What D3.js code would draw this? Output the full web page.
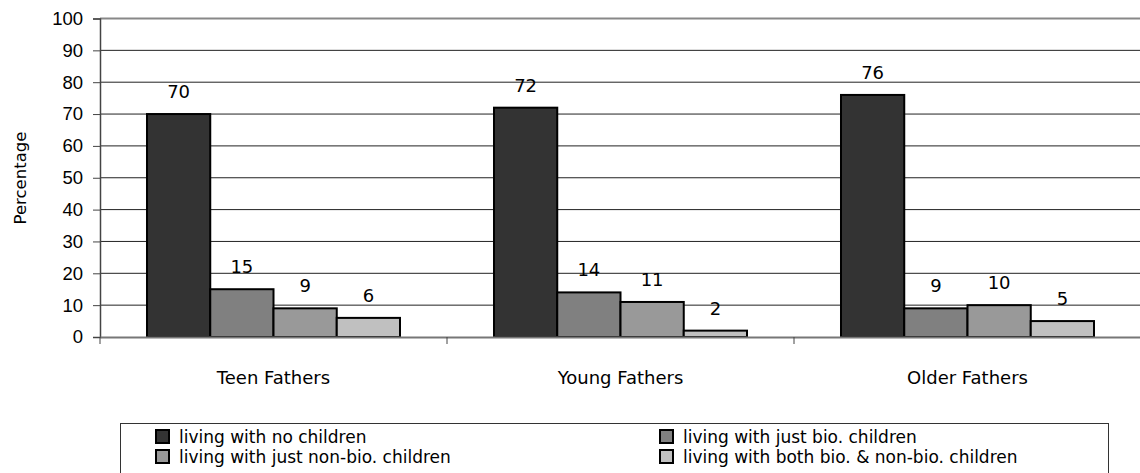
<!DOCTYPE html>
<html>
<head>
<meta charset="utf-8">
<script src="https://cdn.jsdelivr.net/npm/d3@7"></script>
<style>
  html, body { margin: 0; padding: 0; background: #fff; }
  svg { display: block; }
  .comic { font-family: "Comic Sans MS", "DejaVu Sans", sans-serif; }
  .tick text { font-family: "Liberation Sans", Arial, sans-serif; font-size: 18.5px; fill: #000; }
</style>
</head>
<body>
<svg id="chart" width="1140" height="473"></svg>
<script>
// Living arrangements of fathers, by age group (percent)
const categories = ["Teen Fathers", "Young Fathers", "Older Fathers"];
const seriesNames = [
  "living with no children",
  "living with just bio. children",
  "living with just non-bio. children",
  "living with both bio. & non-bio. children"
];
const noChildren     = [70, 72, 76];
const justBio        = [15, 14, 9];
const justNonBio     = [9, 11, 10];
const bothBioNonBio  = [6, 2, 5];
const yTicks = [0, 10, 20, 30, 40, 50, 60, 70, 80, 90, 100];
const fills = ["#333333", "#808080", "#999999", "#c0c0c0"];

const seriesValues = [noChildren, justBio, justNonBio, bothBioNonBio];
const rows = categories.map((c, i) => ({
  category: c,
  values: seriesNames.map((s, j) => ({ key: s, value: seriesValues[j][i], idx: j }))
}));

const svg = d3.select("#chart");
const plotLeft = 100, plotRight = 1141, plotTop = 18.5, plotBottom = 337;

const x0 = d3.scaleBand().domain(categories).range([plotLeft, plotRight]).padding(0);
const x1 = d3.scaleBand().domain(seriesNames).range([0, x0.bandwidth()])
  .paddingInner(0).paddingOuter(0.743);
const y = d3.scaleLinear().domain([0, 100]).range([plotBottom, plotTop]);

// horizontal gridlines
svg.append("g").selectAll("line").data(yTicks.filter(t => t > 0 && t < 100)).join("line")
  .attr("x1", plotLeft).attr("x2", plotRight)
  .attr("y1", d => y(d)).attr("y2", d => y(d))
  .attr("stroke", "#222").attr("stroke-width", 1);

// top border of plot area
svg.append("line").attr("x1", plotLeft).attr("x2", plotRight)
  .attr("y1", y(100)).attr("y2", y(100))
  .attr("stroke", "#888").attr("stroke-width", 2);

// y axis
const yAxis = svg.append("g").attr("transform", `translate(${plotLeft},0)`)
  .call(d3.axisLeft(y).tickValues(yTicks).tickSize(7).tickPadding(10));
yAxis.select(".domain").attr("stroke", "#444").attr("stroke-width", 1.5);
yAxis.selectAll(".tick line").attr("stroke", "#444");

// bars
const groups = svg.append("g").selectAll("g").data(rows).join("g")
  .attr("transform", d => `translate(${x0(d.category)},0)`);

groups.selectAll("rect").data(d => d.values).join("rect")
  .attr("x", d => x1(d.key))
  .attr("y", d => y(d.value))
  .attr("width", x1.bandwidth())
  .attr("height", d => y(0) - y(d.value))
  .attr("fill", d => fills[d.idx])
  .attr("stroke", "#000").attr("stroke-width", 2);

groups.selectAll("text").data(d => d.values).join("text")
  .attr("class", "comic")
  .attr("x", d => x1(d.key) + x1.bandwidth() / 2)
  .attr("y", d => y(d.value) - 16)
  .attr("text-anchor", "middle")
  .attr("font-size", 18)
  .text(d => d.value);

// x baseline with category dividers
const xAxis = svg.append("g").attr("transform", `translate(0,${plotBottom})`)
  .call(d3.axisBottom(x0).tickValues([]).tickSizeOuter(0));
xAxis.select(".domain").attr("stroke", "#777").attr("stroke-width", 2);
svg.append("g").selectAll("line").data(categories.slice(1)).join("line")
  .attr("x1", d => x0(d)).attr("x2", d => x0(d))
  .attr("y1", plotBottom).attr("y2", plotBottom + 7)
  .attr("stroke", "#444");
svg.append("line").attr("x1", plotLeft).attr("x2", plotLeft)
  .attr("y1", plotBottom).attr("y2", plotBottom + 7).attr("stroke", "#444");

// category labels
svg.append("g").selectAll("text").data(categories).join("text")
  .attr("class", "comic")
  .attr("x", d => x0(d) + x0.bandwidth() / 2)
  .attr("y", 384)
  .attr("text-anchor", "middle")
  .attr("font-size", 18)
  .text(d => d);

// y axis title
svg.append("text").attr("class", "comic")
  .attr("transform", "translate(26,178) rotate(-90)")
  .attr("text-anchor", "middle")
  .attr("font-size", 16.5)
  .text("Percentage");

// legend
const legend = svg.append("g");
legend.append("rect").attr("x", 120.5).attr("y", 423.5).attr("width", 988).attr("height", 60)
  .attr("fill", "#fff").attr("stroke", "#333").attr("stroke-width", 1);
const legendPos = [[155, 429], [659, 429], [155, 449], [659, 449]];
const items = legend.selectAll("g").data(seriesNames).join("g")
  .attr("transform", (d, i) => `translate(${legendPos[i][0]},${legendPos[i][1]})`);
items.append("rect").attr("x", 1).attr("y", 1).attr("width", 13).attr("height", 13)
  .attr("fill", (d, i) => fills[i]).attr("stroke", "#000").attr("stroke-width", 2);
items.append("text").attr("class", "comic")
  .attr("x", 24).attr("y", 14)
  .attr("font-size", 17)
  .text(d => d);
</script>
</body>
</html>
